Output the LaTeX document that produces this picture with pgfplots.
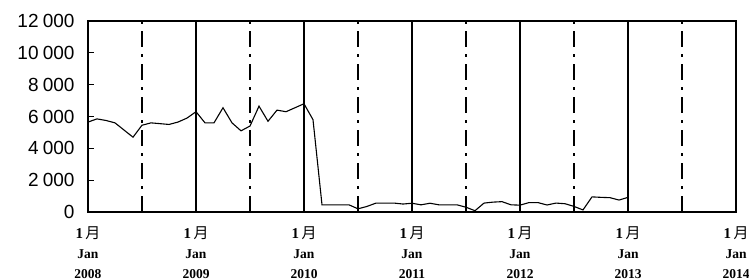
\documentclass[border=0pt]{standalone}
\usepackage{fontspec}
\setmainfont{Liberation Serif}
\newfontfamily\arial{Liberation Sans}
\newfontfamily\cjk{Noto Sans CJK SC}
\usepackage{pgfplots}
\pgfplotsset{compat=1.18}
\pgfplotstableread{
m v
0 5650
1 5850
2 5750
3 5600
4 5150
5 4700
6 5450
7 5600
8 5550
9 5500
10 5650
11 5900
12 6300
13 5600
14 5600
15 6550
16 5600
17 5100
18 5400
19 6650
20 5700
21 6400
22 6300
23 6550
24 6800
25 5800
26 450
27 450
28 450
29 450
30 200
31 350
32 560
33 560
34 560
35 500
36 550
37 450
38 550
39 450
40 450
41 450
42 300
43 80
44 560
45 620
46 650
47 450
48 430
49 590
50 590
51 440
52 560
53 520
54 350
55 130
56 950
57 920
58 900
59 750
60 920
}\datatable
\begin{document}
\begin{tikzpicture}[x=1pt,y=1pt]
\useasboundingbox (0,0) rectangle (749,280);
\begin{axis}[
  at={(88pt,68pt)}, anchor=south west,
  scale only axis, width=648pt, height=191pt,
  xmin=0, xmax=72, ymin=0, ymax=12000,
  scaled y ticks=false,
  xtick={0,12,...,72},
  xticklabels={
    {{\fontsize{15}{20}\selectfont\bfseries 1\,{\cjk\mdseries 月}}\\{\bfseries Jan}\\{\bfseries 2008}},
    {{\fontsize{15}{20}\selectfont\bfseries 1\,{\cjk\mdseries 月}}\\{\bfseries Jan}\\{\bfseries 2009}},
    {{\fontsize{15}{20}\selectfont\bfseries 1\,{\cjk\mdseries 月}}\\{\bfseries Jan}\\{\bfseries 2010}},
    {{\fontsize{15}{20}\selectfont\bfseries 1\,{\cjk\mdseries 月}}\\{\bfseries Jan}\\{\bfseries 2011}},
    {{\fontsize{15}{20}\selectfont\bfseries 1\,{\cjk\mdseries 月}}\\{\bfseries Jan}\\{\bfseries 2012}},
    {{\fontsize{15}{20}\selectfont\bfseries 1\,{\cjk\mdseries 月}}\\{\bfseries Jan}\\{\bfseries 2013}},
    {{\fontsize{15}{20}\selectfont\bfseries 1\,{\cjk\mdseries 月}}\\{\bfseries Jan}\\{\bfseries 2014}}},
  xticklabel style={align=center, font=\fontsize{13.5}{20}\selectfont, yshift=-11pt},
  xtick style={draw=none},
  xmajorgrids,
  major x grid style={black, line width=1.2pt},
  extra x ticks={6,18,30,42,54,66},
  extra x tick labels={},
  extra x tick style={grid=major, major grid style={black, line width=1.2pt, dash pattern=on 16pt off 7pt on 3pt off 7pt}, xtick style={draw=none}},
  ytick={0,2000,4000,6000,8000,10000,12000},
  yticklabels={0,2\hspace{0.22em}000,4\hspace{0.22em}000,6\hspace{0.22em}000,8\hspace{0.22em}000,10\hspace{0.22em}000,12\hspace{0.22em}000},
  yticklabel style={font=\arial\fontsize{19}{19}\selectfont, xshift=-10pt},
  ytick style={draw=black, line width=1.2pt},
  ytick pos=left, tick align=inside, major tick length=6pt,
  axis line style={black, line width=1.3pt},
]
\addplot[black, line width=1.1pt, no marks] table[x=m, y=v] {\datatable};
\addplot[only marks, mark=-, mark size=2.5pt, mark options={xshift=2.5pt, line width=1.1pt, black}] coordinates {(0,2000) (0,4000) (0,6000) (0,8000) (0,10000)};
\end{axis}
\end{tikzpicture}
\end{document}
